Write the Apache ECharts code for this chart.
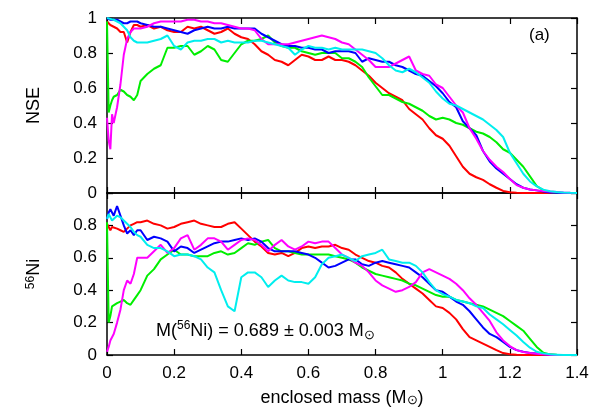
<!DOCTYPE html>
<html>
<head>
<meta charset="utf-8">
<title>NSE and 56Ni vs enclosed mass</title>
<script src="https://cdn.jsdelivr.net/npm/echarts@6.0.0/dist/echarts.min.js"></script>
<style>
  html, body { margin: 0; padding: 0; background: #fff; }
  #chart { width: 598px; height: 419px; }
</style>
</head>
<body>
<div id="chart"></div>
<script>
// enclosed mass grid (M_sun), finer near the centre
var mass = [0, 0.005, 0.01, 0.015, 0.02, 0.03, 0.04, 0.05, 0.06, 0.07, 0.08, 0.09, 0.10,
    0.12, 0.14, 0.16, 0.18, 0.20, 0.22, 0.24, 0.26, 0.28, 0.30,
    0.32, 0.34, 0.36, 0.38, 0.40, 0.42, 0.44, 0.46, 0.48, 0.50,
    0.52, 0.54, 0.56, 0.58, 0.60, 0.62, 0.64, 0.66, 0.68, 0.70,
    0.72, 0.74, 0.76, 0.78, 0.80, 0.82, 0.84, 0.86, 0.88, 0.90,
    0.92, 0.94, 0.96, 0.98, 1.00, 1.02, 1.04, 1.06, 1.08, 1.10,
    1.12, 1.14, 1.16, 1.18, 1.20, 1.22, 1.24, 1.26, 1.28, 1.30,
    1.32, 1.34, 1.36, 1.38, 1.40];

var xTicks = [0, 0.2, 0.4, 0.6, 0.8, 1, 1.2, 1.4];
var nseTicks = [0, 0.2, 0.4, 0.6, 0.8, 1];
var niTicks = [0, 0.2, 0.4, 0.6, 0.8];

// panel (a) top: NSE fraction
var nseRed = [0.98, 0.97, 0.96, 0.95, 0.95, 0.94, 0.92, 0.92, 0.86, 0.92, 0.96, 0.96, 0.95,
    0.96, 0.94, 0.95, 0.93, 0.92, 0.92, 0.95, 0.94, 0.95, 0.93,
    0.91, 0.92, 0.94, 0.91, 0.89, 0.88, 0.85, 0.81, 0.79, 0.76,
    0.75, 0.73, 0.76, 0.79, 0.78, 0.76, 0.76, 0.78, 0.76, 0.76,
    0.75, 0.73, 0.70, 0.67, 0.63, 0.60, 0.57, 0.55, 0.53, 0.48,
    0.45, 0.42, 0.37, 0.33, 0.31, 0.27, 0.21, 0.15, 0.11, 0.09,
    0.075, 0.05, 0.03, 0.012, 0.004, 0.001, 0, 0, 0, 0,
    0, 0, 0, 0, 0];
var nseGreen = [0.98, 0.46, 0.50, 0.53, 0.55, 0.56, 0.59, 0.58, 0.56, 0.55, 0.53, 0.56, 0.64,
    0.68, 0.71, 0.73, 0.83, 0.83, 0.84, 0.84, 0.79, 0.81, 0.84,
    0.82, 0.76, 0.75, 0.80, 0.85, 0.87, 0.87, 0.88, 0.90, 0.86,
    0.84, 0.83, 0.83, 0.81, 0.80, 0.79, 0.80, 0.80, 0.80, 0.77,
    0.77, 0.75, 0.72, 0.66, 0.61, 0.56, 0.56, 0.54, 0.52, 0.51,
    0.49, 0.47, 0.44, 0.42, 0.43, 0.42, 0.40, 0.39, 0.37, 0.35,
    0.34, 0.32, 0.29, 0.25, 0.23, 0.19, 0.15, 0.095, 0.04, 0.015,
    0.005, 0.002, 0, 0, 0];
var nseBlue = [1.0, 1.0, 0.99, 0.99, 0.99, 0.99, 0.98, 0.97, 0.97, 0.98, 0.98, 0.98, 0.97,
    0.96, 0.95, 0.95, 0.94, 0.93, 0.92, 0.91, 0.93, 0.94, 0.95,
    0.94, 0.94, 0.95, 0.94, 0.94, 0.94, 0.94, 0.91, 0.89, 0.87,
    0.85, 0.84, 0.84, 0.83, 0.83, 0.82, 0.82, 0.80, 0.81, 0.81,
    0.81, 0.80, 0.75, 0.77, 0.76, 0.75, 0.75, 0.73, 0.72, 0.70,
    0.68, 0.67, 0.64, 0.61, 0.57, 0.52, 0.49, 0.41, 0.37, 0.33,
    0.24, 0.18, 0.14, 0.11, 0.08, 0.05, 0.03, 0.02, 0.015, 0.008,
    0.003, 0.001, 0, 0, 0];
var nseMagenta = [0.43, 0.30, 0.25, 0.45, 0.40, 0.49, 0.62, 0.79, 0.88, 0.92, 0.94, 0.94, 0.94,
    0.95, 0.97, 0.98, 0.98, 0.98, 0.98, 0.99, 0.99, 0.98, 0.98,
    0.97, 0.97, 0.96, 0.95, 0.94, 0.94, 0.93, 0.88, 0.85, 0.85,
    0.85, 0.85, 0.86, 0.87, 0.88, 0.89, 0.90, 0.89, 0.88, 0.86,
    0.85, 0.82, 0.79, 0.76, 0.72, 0.72, 0.72, 0.74, 0.76, 0.78,
    0.70, 0.68, 0.67, 0.62, 0.60, 0.55, 0.50, 0.46, 0.37, 0.31,
    0.24, 0.19, 0.15, 0.12, 0.08, 0.045, 0.03, 0.02, 0.015, 0.011,
    0.008, 0.006, 0.003, 0.001, 0];
var nseCyan = [1.0, 1.0, 0.995, 0.99, 0.99, 0.98, 0.97, 0.95, 0.93, 0.89, 0.87, 0.86, 0.86,
    0.86, 0.87, 0.88, 0.90, 0.84, 0.82, 0.86, 0.87, 0.87, 0.88,
    0.88, 0.86, 0.87, 0.86, 0.86, 0.86, 0.87, 0.87, 0.86, 0.85,
    0.84, 0.83, 0.79, 0.82, 0.84, 0.83, 0.83, 0.82, 0.83, 0.82,
    0.82, 0.82, 0.82, 0.81, 0.80, 0.77, 0.73, 0.70, 0.69, 0.71,
    0.69, 0.66, 0.63, 0.58, 0.54, 0.51, 0.50, 0.48, 0.46, 0.44,
    0.42, 0.39, 0.36, 0.32, 0.23, 0.17, 0.11, 0.066, 0.038, 0.019,
    0.01, 0.006, 0.003, 0.001, 0];

// bottom panel: 56Ni mass fraction
var niRed = [0.81, 0.79, 0.77, 0.79, 0.79, 0.78, 0.77, 0.76, 0.78, 0.80, 0.81, 0.82, 0.82,
    0.83, 0.81, 0.80, 0.78, 0.79, 0.81, 0.82, 0.83, 0.81, 0.80,
    0.79, 0.79, 0.81, 0.82, 0.78, 0.74, 0.70, 0.67, 0.63, 0.62,
    0.63, 0.61, 0.63, 0.66, 0.67, 0.66, 0.67, 0.67, 0.68, 0.66,
    0.65, 0.62, 0.60, 0.58, 0.57, 0.55, 0.54, 0.51, 0.47, 0.44,
    0.41, 0.38, 0.34, 0.30, 0.29, 0.26, 0.22, 0.16, 0.11, 0.09,
    0.07, 0.05, 0.03, 0.012, 0.004, 0.001, 0, 0, 0, 0,
    0, 0, 0, 0, 0];
var niGreen = [0.82, 0.20, 0.24, 0.30, 0.31, 0.32, 0.33, 0.34, 0.32, 0.31, 0.34, 0.37, 0.40,
    0.49, 0.53, 0.59, 0.62, 0.65, 0.62, 0.62, 0.61, 0.61, 0.61,
    0.63, 0.64, 0.62, 0.63, 0.66, 0.69, 0.68, 0.70, 0.71, 0.66,
    0.64, 0.64, 0.63, 0.62, 0.62, 0.62, 0.62, 0.62, 0.61, 0.60,
    0.59, 0.57, 0.54, 0.52, 0.50, 0.49, 0.48, 0.47, 0.46, 0.44,
    0.43, 0.41, 0.39, 0.37, 0.36, 0.36, 0.34, 0.33, 0.32, 0.31,
    0.30, 0.28, 0.26, 0.24, 0.21, 0.18, 0.15, 0.10, 0.05, 0.014,
    0.004, 0.001, 0, 0, 0];
var niBlue = [0.84, 0.88, 0.90, 0.88, 0.86, 0.92, 0.86, 0.80, 0.75, 0.77, 0.74, 0.77, 0.77,
    0.71, 0.73, 0.72, 0.70, 0.64, 0.67, 0.66, 0.63, 0.65, 0.67,
    0.69, 0.70, 0.70, 0.71, 0.72, 0.71, 0.72, 0.70, 0.66, 0.64,
    0.64, 0.64, 0.64, 0.63, 0.62, 0.60, 0.57, 0.54, 0.55, 0.57,
    0.59, 0.59, 0.56, 0.55, 0.57, 0.58, 0.57, 0.56, 0.55, 0.54,
    0.51, 0.48, 0.44, 0.40, 0.39, 0.36, 0.33, 0.31, 0.27, 0.22,
    0.17, 0.13, 0.11, 0.08, 0.05, 0.03, 0.02, 0.012, 0.01, 0.005,
    0.002, 0, 0, 0, 0];
var niMagenta = [0.02, 0.05, 0.09, 0.11, 0.13, 0.20, 0.28, 0.40, 0.46, 0.44, 0.50, 0.60, 0.60,
    0.60, 0.64, 0.68, 0.63, 0.66, 0.72, 0.74, 0.65, 0.68, 0.72,
    0.72, 0.70, 0.65, 0.68, 0.71, 0.72, 0.71, 0.68, 0.64, 0.68,
    0.71, 0.67, 0.65, 0.67, 0.70, 0.69, 0.70, 0.70, 0.66, 0.62,
    0.60, 0.57, 0.55, 0.51, 0.46, 0.43, 0.41, 0.39, 0.40, 0.42,
    0.45, 0.51, 0.53, 0.51, 0.49, 0.47, 0.44, 0.40, 0.35, 0.31,
    0.26, 0.21, 0.14, 0.09, 0.055, 0.03, 0.018, 0.012, 0.007, 0.004,
    0.002, 0, 0, 0, 0];
var niCyan = [0.84, 0.87, 0.85, 0.83, 0.82, 0.86, 0.85, 0.83, 0.81, 0.79, 0.76, 0.74, 0.73,
    0.68, 0.66, 0.66, 0.64, 0.61, 0.62, 0.62, 0.61, 0.59, 0.54,
    0.51, 0.40, 0.30, 0.27, 0.48, 0.51, 0.51, 0.48, 0.42, 0.46,
    0.49, 0.46, 0.45, 0.45, 0.44, 0.48, 0.56, 0.60, 0.61, 0.62,
    0.60, 0.58, 0.61, 0.62, 0.63, 0.65, 0.59, 0.58, 0.57, 0.57,
    0.55, 0.51, 0.45, 0.40, 0.375, 0.36, 0.34, 0.33, 0.32, 0.30,
    0.29, 0.25, 0.22, 0.19, 0.155, 0.12, 0.08, 0.045, 0.02, 0.01,
    0.004, 0.002, 0, 0, 0];

var colors = ['#ff0000', '#00ee00', '#0000ff', '#ff00ff', '#00eeee'];
var nseSets = [nseRed, nseGreen, nseBlue, nseMagenta, nseCyan];
var niSets = [niRed, niGreen, niBlue, niMagenta, niCyan];

var FONT = "'Liberation Sans', Arial, Helvetica, sans-serif";

function pairs(values) {
    return mass.map(function(m, i) { return [m, values[i]]; });
}

// one side of a panel frame; ticks point inward like gnuplot
function frameAxis(grid, pos, ticks, labels, extra) {
    var ax = {
        type: 'value',
        gridIndex: grid,
        position: pos,
        min: ticks[0],
        max: ticks === niTicks ? 1 : ticks[ticks.length - 1],
        interval: 0.2,
        axisLine: { show: true, onZero: false, lineStyle: { color: '#000', width: 1.5 } },
        axisTick: { show: true, inside: true, length: 6, lineStyle: { color: '#000', width: 1.2 } },
        axisLabel: { show: labels, color: '#000', fontSize: 17, fontFamily: FONT, margin: 10 },
        splitLine: { show: false }
    };
    for (var k in extra) { ax[k] = extra[k]; }
    return ax;
}

var chart = echarts.init(document.getElementById('chart'), null, { renderer: 'canvas' });

var series = [];
colors.forEach(function(c, i) {
    series.push({
        type: 'line', xAxisIndex: 0, yAxisIndex: 0, data: pairs(nseSets[i]),
        showSymbol: false, lineStyle: { color: c, width: 2 }, itemStyle: { color: c }
    });
    series.push({
        type: 'line', xAxisIndex: 2, yAxisIndex: 2, data: pairs(niSets[i]),
        showSymbol: false, lineStyle: { color: c, width: 2 }, itemStyle: { color: c }
    });
});

var nameStyle = {
    color: '#000', fontSize: 18, fontFamily: FONT,
    rich: {
        sup: { fontSize: 12, fontFamily: FONT, color: '#000', verticalAlign: 'top', lineHeight: 12 },
        sub: { fontSize: 13, fontFamily: FONT, color: '#000', verticalAlign: 'bottom', lineHeight: 13 }
    }
};

var option = {
    animation: false,
    backgroundColor: '#fff',
    grid: [
        { left: 107, right: 21, top: 18, height: 175 },
        { left: 107, right: 21, top: 193, height: 162 }
    ],
    xAxis: [
        frameAxis(0, 'bottom', xTicks, false, { max: 1.4 }),
        frameAxis(0, 'top', xTicks, false, { max: 1.4 }),
        frameAxis(1, 'bottom', xTicks, true, {
            max: 1.4,
            name: 'enclosed mass (M{sub|⊙})',
            nameLocation: 'middle',
            nameGap: 34,
            nameTextStyle: nameStyle
        }),
        frameAxis(1, 'top', xTicks, false, { max: 1.4 })
    ],
    yAxis: [
        frameAxis(0, 'left', nseTicks, true, {
            name: 'NSE', nameLocation: 'middle', nameGap: 64, nameTextStyle: nameStyle
        }),
        frameAxis(0, 'right', nseTicks, false, {}),
        frameAxis(1, 'left', niTicks, true, {
            name: '{sup|56}Ni', nameLocation: 'middle', nameGap: 64, nameTextStyle: nameStyle,
            axisLabel: {
                show: true, color: '#000', fontSize: 17, fontFamily: FONT, margin: 10,
                formatter: function(v) { return v >= 0.99 ? '' : String(v); }
            }
        }),
        frameAxis(1, 'right', niTicks, false, {})
    ],
    graphic: [
        {
            type: 'text', left: 529, top: 27,
            style: { text: '(a)', fill: '#000', font: '17px ' + FONT }
        },
        {
            type: 'text', left: 156, top: 320,
            style: {
                text: 'M({sup|56}Ni) = 0.689 ± 0.003 M{sub|⊙}',
                fill: '#000', fontSize: 18, fontFamily: FONT, lineHeight: 22,
                rich: {
                    sup: { fontSize: 12, fontFamily: FONT, fill: '#000', verticalAlign: 'top', lineHeight: 12 },
                    sub: { fontSize: 13, fontFamily: FONT, fill: '#000', verticalAlign: 'bottom', lineHeight: 13 }
                }
            }
        }
    ],
    series: series
};

chart.setOption(option);
</script>
</body>
</html>
